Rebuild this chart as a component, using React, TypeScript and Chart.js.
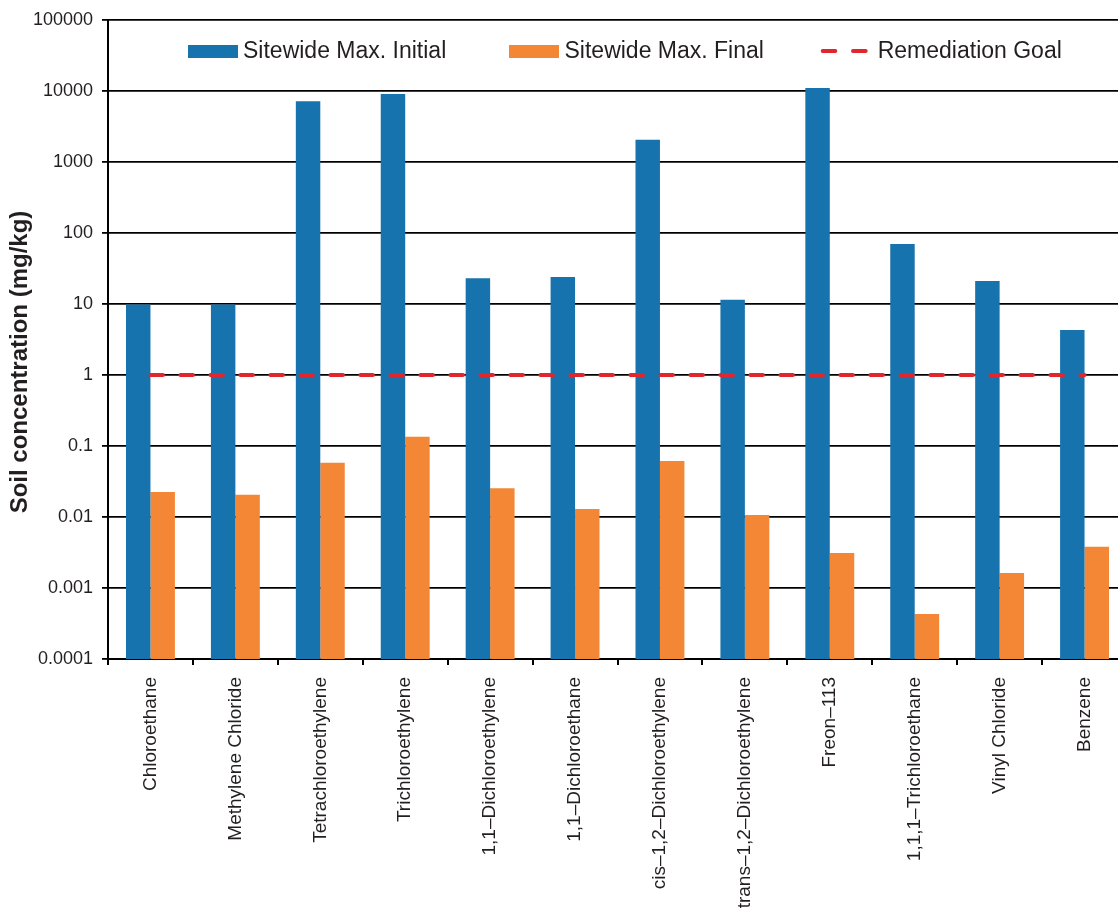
import React, { useEffect, useRef } from "react";
import { Chart, registerables } from "chart.js";

Chart.register(...registerables);

const categories = [
  "Chloroethane",
  "Methylene Chloride",
  "Tetrachloroethylene",
  "Trichloroethylene",
  "1,1–Dichloroethylene",
  "1,1–Dichloroethane",
  "cis–1,2–Dichloroethylene",
  "trans–1,2–Dichloroethylene",
  "Freon–113",
  "1,1,1–Trichloroethane",
  "Vinyl Chloride",
  "Benzene",
];

const initialValues = [9.8, 9.8, 7200, 9100, 23, 24, 2050, 11.5, 11000, 70, 21, 4.3];
const finalValues = [0.0225, 0.0205, 0.058, 0.135, 0.0255, 0.013, 0.0615, 0.0107, 0.0031, 0.00043, 0.00163, 0.0038];
const remediationGoal = [1, 1, 1, 1, 1, 1, 1, 1, 1, 1, 1, 1];

const yTickValues = [0.0001, 0.001, 0.01, 0.1, 1, 10, 100, 1000, 10000, 100000];
const yTickLabels = ["0.0001", "0.001", "0.01", "0.1", "1", "10", "100", "1000", "10000", "100000"];

const seriesLabels = ["Sitewide Max. Initial", "Sitewide Max. Final", "Remediation Goal"];
const yAxisTitle = "Soil concentration (mg/kg)";

const BLUE = "#1773ad";
const ORANGE = "#f38735";
const RED = "#e1262d";
const TEXT = "#231f20";
const FONT = '"Liberation Sans", Arial, Helvetica, sans-serif';

const CANVAS_W = 1127;
const CANVAS_H = 914;

const overlayPlugin = {
  id: "overlayLegendTitle",
  afterDraw(chart: any) {
    const ctx = chart.ctx as CanvasRenderingContext2D;
    const ds = chart.data.datasets;
    ctx.save();
    // legend
    ctx.font = `23px ${FONT}`;
    ctx.textAlign = "left";
    ctx.textBaseline = "alphabetic";
    const base = 58.3;
    ctx.fillStyle = ds[0].backgroundColor;
    ctx.fillRect(188, 45, 50, 13);
    ctx.fillStyle = TEXT;
    ctx.fillText(ds[0].label, 243, base);
    ctx.fillStyle = ds[1].backgroundColor;
    ctx.fillRect(509, 45, 50, 13);
    ctx.fillStyle = TEXT;
    ctx.fillText(ds[1].label, 564.5, base);
    ctx.strokeStyle = ds[2].borderColor;
    ctx.lineWidth = 4;
    ctx.lineCap = "round";
    ctx.beginPath();
    ctx.moveTo(822.7, 51);
    ctx.lineTo(835.3, 51);
    ctx.moveTo(853, 51);
    ctx.lineTo(865.7, 51);
    ctx.stroke();
    ctx.fillStyle = TEXT;
    ctx.fillText(ds[2].label, 877.7, base);
    // y axis title
    ctx.translate(20, 362);
    ctx.rotate(-Math.PI / 2);
    ctx.font = `bold 24px ${FONT}`;
    ctx.textAlign = "center";
    ctx.textBaseline = "middle";
    ctx.fillStyle = TEXT;
    ctx.fillText(yAxisTitle, 0, 0);
    ctx.restore();
  },
};

export default function App() {
  const canvasRef = useRef<HTMLCanvasElement | null>(null);

  useEffect(() => {
    if (!canvasRef.current) return;
    const chart = new Chart(canvasRef.current, {
      type: "bar",
      data: {
        labels: categories,
        datasets: [
          {
            type: "bar",
            label: seriesLabels[0],
            data: initialValues,
            backgroundColor: BLUE,
            borderWidth: 0,
            categoryPercentage: 0.576,
            barPercentage: 1,
            order: 1,
          },
          {
            type: "bar",
            label: seriesLabels[1],
            data: finalValues,
            backgroundColor: ORANGE,
            borderWidth: 0,
            categoryPercentage: 0.576,
            barPercentage: 1,
            order: 1,
          },
          {
            type: "line",
            label: seriesLabels[2],
            data: remediationGoal,
            borderColor: RED,
            backgroundColor: RED,
            borderWidth: 4,
            borderDash: [12.5, 17.5],
            borderCapStyle: "round",
            pointRadius: 0,
            fill: false,
            order: 0,
          },
        ] as any,
      },
      options: {
        responsive: false,
        animation: false,
        devicePixelRatio: 1,
        layout: { padding: { top: 20, left: 0, right: 0, bottom: 0 } },
        plugins: {
          legend: { display: false },
          tooltip: { enabled: false },
          title: { display: false },
        },
        scales: {
          x: {
            type: "category",
            offset: true,
            afterFit(scale: any) {
              scale.height = CANVAS_H - 659;
            },
            grid: {
              offset: true,
              drawOnChartArea: false,
              drawTicks: true,
              tickLength: 6,
              color: "#000",
              lineWidth: 2,
            },
            border: { display: true, color: "#000", width: 2 },
            ticks: {
              autoSkip: false,
              maxRotation: 90,
              minRotation: 90,
              padding: 12,
              color: TEXT,
              font: { family: FONT, size: 19 },
            },
          },
          y: {
            type: "logarithmic",
            min: 0.0001,
            max: 100000,
            afterFit(scale: any) {
              scale.width = 108;
            },
            afterBuildTicks(scale: any) {
              scale.ticks = yTickValues.map((v) => ({ value: v }));
            },
            grid: {
              drawTicks: true,
              tickLength: 6,
              color: "#000",
              lineWidth: 1.8,
            },
            border: { display: true, color: "#000", width: 2 },
            ticks: {
              padding: 9,
              color: TEXT,
              font: { family: FONT, size: 18 },
              callback: (value: any) => {
                const i = yTickValues.findIndex((v) => Math.abs(v - Number(value)) / v < 1e-6);
                return i >= 0 ? yTickLabels[i] : "";
              },
            },
          },
        },
      },
      plugins: [overlayPlugin],
    } as any);
    return () => chart.destroy();
  }, []);

  return (
    <div
      style={{
        position: "fixed",
        left: 0,
        top: 0,
        width: 1118,
        height: 914,
        overflow: "hidden",
        background: "#fff",
      }}
    >
      <canvas
        ref={canvasRef}
        width={CANVAS_W}
        height={CANVAS_H}
        style={{ display: "block", width: CANVAS_W, height: CANVAS_H }}
      />
    </div>
  );
}
